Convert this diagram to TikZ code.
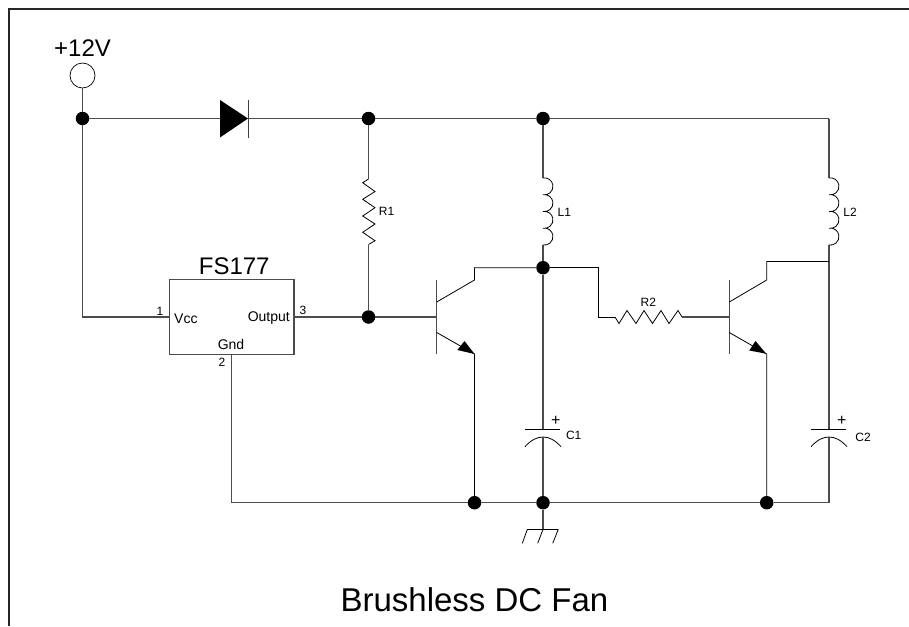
\documentclass[tikz,border=0pt]{standalone}
\usepackage{fontspec}
\setmainfont{Liberation Sans}
\tikzset{
  wire/.style={line width=1.1pt,draw=black!70},
  thin wire/.style={line width=0.8pt,draw=black},
  dot/.style={circle,fill=black,inner sep=0pt,minimum size=13.5pt},
  lbl/.style={inner sep=0pt,font=\fontsize{12}{13}\selectfont},
  pin/.style={inner sep=0pt,font=\fontsize{12}{13}\selectfont},
  iclabel/.style={inner sep=0pt,font=\fontsize{14}{15}\selectfont},
  plus/.style={inner sep=0pt,font=\fontsize{16}{16}\selectfont},
  icbox/.style={draw=black!70,line width=1.1pt,fill=none,inner sep=0pt,minimum width=124.5pt,minimum height=74.5pt},
  coil/.style={thin wire},
  coil loop/.style={}
}
\newcommand{\coilpath}{arc[start angle=-100,end angle=100,radius=8.5] arc[start angle=-100,end angle=100,radius=8.5] arc[start angle=-100,end angle=100,radius=8.5] arc[start angle=-100,end angle=100,radius=8.5]}
\begin{document}
\begin{tikzpicture}[x=1pt,y=-1pt]
\useasboundingbox (0,0) rectangle (909,626);
% frame
\draw[line width=2pt,draw=black!85] (9,626) -- (9,8.7) -- (909,8.7);
% junctions and free points
\node[dot] (j1) at (82.5,118.5) {};
\node[dot] (j2) at (368.5,118.5) {};
\node[dot] (j3) at (543,118.5) {};
\node[dot] (j4) at (368.5,317) {};
\node[dot] (j5) at (543,267.7) {};
\node[dot] (j6) at (474.5,502.7) {};
\node[dot] (j7) at (543,502.7) {};
\node[dot] (j8) at (766.7,502.7) {};
\coordinate (tr) at (829,118.5);
\coordinate (br) at (829,502.7);
% supply
\node[draw=black,line width=0.7pt,circle,minimum size=25pt,inner sep=0pt] (vcc) at (82.5,75.5) {};
\node[inner sep=0pt,font=\fontsize{24}{25}\selectfont] (vlabel) at (82.5,48) {+12V};
\draw[wire] (vcc) -- (j1);
% diode
\coordinate (da) at (220,118.5);
\coordinate (dk) at (248,118.5);
\path[fill=black] (220,100) -- (248,118.5) -- (220,137.5) -- cycle;
\draw[line width=0.7pt,draw=black!75] (248,100) -- (248,137.5);
\draw[wire] (j1) -- (da);
\draw[wire] (dk) -- (j2);
\draw[wire] (j2) -- (j3) -- (tr);
% R1
\coordinate (r1t) at (368.5,179);
\coordinate (r1b) at (368.5,244.5);
\draw[wire] (j2) -- (r1t);
\draw[thin wire] (r1t) -- (362.7,182.7) -- (375,191.5) -- (362.7,199.3) -- (375,207.7) -- (362.7,216) -- (375,224) -- (362.7,232.3) -- (375,240.7) -- (r1b);
\draw[wire] (r1b) -- (j4);
\node[lbl] (r1l) at (386.5,211.7) {R1};
% IC
\node[icbox] (ic) at (231.75,317) {};
\node[inner sep=0pt,font=\fontsize{24}{25}\selectfont] (icname) at (234.2,266) {FS177};
\node[iclabel,anchor=base west] (vccl) at (174,323.3) {Vcc};
\node[iclabel,anchor=base east] (outl) at (290,321.7) {Output};
\node[iclabel,anchor=base] (gndl) at (231,349.3) {Gnd};
\node[pin] (p1) at (160,311) {1};
\node[pin] (p3) at (303,310.5) {3};
\node[pin] (p2) at (222,362.7) {2};
\coordinate (icl) at (169.5,317);
\coordinate (icr) at (294,317);
\coordinate (icb) at (231.7,354.3);
\coordinate (gl) at (231.7,502.7);
\coordinate (vl) at (82.5,317);
\draw[wire] (j1) -- (vl) -- (icl);
\draw[wire] (icr) -- (j4);
\draw[wire] (icb) -- (gl) -- (j6);
\draw[wire] (j6) -- (j7) -- (j8) -- (br);
% Q1
\coordinate (q1b) at (436.7,317);
\draw[wire] (436.7,280) -- (436.7,354);
\draw[wire] (j4) -- (q1b);
\draw[thin wire] (436.7,302) -- (474.5,280) -- (474.5,267.7) -- (j5);
\draw[thin wire] (436.7,332.5) -- (474.5,354) -- (j6);
\path[fill=black] (474.5,354) -- (457.3,350) -- (464.5,341) -- cycle;
% L1, L2
\coordinate (l1t) at (543,178);
\coordinate (l1b) at (543,245);
\draw[wire] (j3) -- (l1t);
\draw[wire] (l1b) -- (j5);
\draw[coil] (l1t) \coilpath;
\node[lbl] (l1l) at (564.3,212.7) {L1};
\coordinate (l2t) at (829,178);
\coordinate (l2b) at (829,245);
\coordinate (c2t) at (829,429.3);
\coordinate (c2b) at (829,437);
\draw[wire] (tr) -- (l2t);
\draw[wire] (l2b) -- (c2t);
\draw[coil] (l2t) \coilpath;
\node[lbl] (l2l) at (850,212.7) {L2};
% R2 and Q2
\coordinate (r2a) at (598.5,267.7);
\coordinate (r2b) at (598.5,317);
\coordinate (r2l) at (615,317);
\coordinate (r2r) at (682,317);
\coordinate (q2b) at (729.3,317);
\draw[thin wire] (j5) -- (r2a) -- (r2b) -- (r2l);
\draw[thin wire] (r2l) -- (619,323.5) -- (627,310.5) -- (636,323.5) -- (644,310.5) -- (652.5,323.5) -- (661,310.5) -- (669,323.5) -- (678,310.5) -- (r2r);
\draw[wire] (r2r) -- (q2b);
\node[lbl] (r2t) at (648.3,302.3) {R2};
\draw[wire] (729.3,280) -- (729.3,354);
\draw[thin wire] (729.3,302) -- (766.7,280) -- (766.7,261.5) -- (829,261.5);
\draw[thin wire] (729.3,332.5) -- (766.7,354) -- (j8);
\path[fill=black] (766.2,353.7) -- (749.3,350.5) -- (755.5,341) -- cycle;
% C1
\coordinate (c1t) at (543,429.3);
\coordinate (c1b) at (543,437);
\draw[wire] (j5) -- (c1t);
\draw[thin wire] (525,429.3) -- (560,429.3);
\draw[thin wire] (525,446.7) .. controls (531,440) and (537,437) .. (c1b) .. controls (549,437) and (555,440) .. (561,446.7);
\draw[wire] (c1b) -- (j7);
\node[plus] (pl1) at (555.7,420.7) {+};
\node[lbl] (c1l) at (573.7,435.7) {C1};
% C2
\draw[thin wire] (811,429.3) -- (846,429.3);
\draw[thin wire] (811,446.7) .. controls (817,440) and (823,437) .. (c2b) .. controls (835,437) and (841,440) .. (847,446.7);
\draw[wire] (c2b) -- (br);
\node[plus] (pl2) at (841.7,420.7) {+};
\node[lbl] (c2l) at (863,437.3) {C2};
% ground
\coordinate (gnd) at (543,529.4);
\draw[wire] (j7) -- (gnd);
\draw[thin wire] (527.3,529.4) -- (558.3,529.4);
\draw[thin wire] (527.3,529.4) -- (522.3,543.3);
\draw[thin wire] (543,529.4) -- (537.7,543.3);
\draw[thin wire] (558.3,529.4) -- (552.7,543.3);
% title
\node[anchor=base,inner sep=0pt,font=\fontsize{33}{35}\selectfont] (title) at (474.5,611.7) {Brushless DC Fan};
\end{tikzpicture}
\end{document}
